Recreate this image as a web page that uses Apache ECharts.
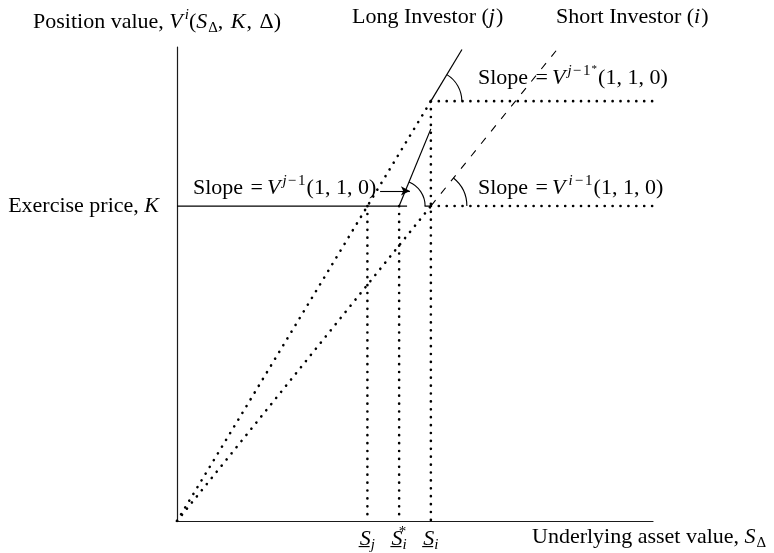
<!DOCTYPE html>
<html>
<head>
<meta charset="utf-8">
<script src="https://cdn.jsdelivr.net/npm/echarts@6/dist/echarts.min.js"></script>
<style>
html, body { margin: 0; padding: 0; background: #fff; }
#chart { width: 774px; height: 553px; }
</style>
</head>
<body>
<div id="chart"></div>
<script>
// Exercise price and the three critical values of the underlying asset
const strikeK = 10;
const sJ = 6;        // S_j
const sStarI = 7;    // S*_i
const sI = 8;        // S_i
const upperLevel = 13.33;

// Asset-axis tick values and their labels
const tickValues = [sJ, sStarI, sI];
const tickLabels = ['{u|S\u0332}{sub|j}', '{u|S\u0332}{supz|*}{sub|i}', '{u|S\u0332}{sub|i}'];

// Long investor (j): dotted ray from the origin, solid continuation, and the steeper branch from S*_i
const longDotted = [[0, 0], [sI, upperLevel]];
const longSolid = [[sI, upperLevel], [8.98, 14.97]];
const longSteep = [[sStarI, strikeK], [sI, 12.45]];

// Short investor (i): dotted ray from the origin, dashed continuation
const shortDotted = [[0, 0], [sI, strikeK]];
const shortDashed = [[sI, strikeK], [12, 15]];

// Exercise price level (solid pieces)
const strikeLine = [[0, strikeK], [7.25, strikeK]];
const strikeStub = [[7.8, strikeK], [sI, strikeK]];

// Dotted reference levels to the right of S_i
const upperLevelLine = [[sI, upperLevel], [15, upperLevel]];
const strikeLevelLine = [[sI, strikeK], [15, strikeK]];

// Dotted drop lines down to the asset axis
const dropSJ = [[sJ, strikeK], [sJ, 0]];
const dropSStarI = [[sStarI, strikeK], [sStarI, 0]];
const dropSI = [[sI, upperLevel], [sI, 0]];

// Angle arcs: [centre x, centre y, point on the sloped side x, y]
const slopeArcs = [
  [sI, upperLevel, 8.98, 14.97],
  [sStarI, strikeK, sI, 12.45],
  [sI, strikeK, 12, 15]
];
const arcRadius = [31, 26, 36];

// Pointer from the "Slope = V^{j-1}" label to the steep branch
const pointerLine = [[6.4, 10.48], [7.34, 10.48]];

const FONT = '"Liberation Serif", "Times New Roman", serif';
const FS = 22;
const SS = 15;
const LH = 28;
const rich = {
  n: { fontFamily: FONT, fontSize: FS, lineHeight: LH, color: '#000' },
  cm: { fontFamily: FONT, fontSize: FS, lineHeight: LH, color: '#000', padding: [0, 2, 0, 0] },
  eq: { fontFamily: FONT, fontSize: FS, lineHeight: LH, color: '#000', padding: [0, 4, 0, 2] },
  it: { fontFamily: FONT, fontSize: FS, lineHeight: LH, fontStyle: 'italic', color: '#000', padding: [0, 1, 0, 0] },
  u: { fontFamily: FONT, fontSize: FS, lineHeight: LH, fontStyle: 'italic', color: '#000' },
  sup: { fontFamily: FONT, fontSize: SS, lineHeight: SS, verticalAlign: 'top', fontStyle: 'italic', color: '#000', padding: [0, 0, 0, 1] },
  supi: { fontFamily: FONT, fontSize: SS, lineHeight: SS, verticalAlign: 'top', fontStyle: 'italic', color: '#000', padding: [0, 1, 0, 2] },
  supn: { fontFamily: FONT, fontSize: SS, lineHeight: SS, verticalAlign: 'top', color: '#000', padding: [0, 1, 0, 1] },
  sup2: { fontFamily: FONT, fontSize: 11, lineHeight: 11, verticalAlign: 'top', color: '#000', padding: [0, 1, 0, 0] },
  supz: { fontFamily: FONT, fontSize: SS, lineHeight: SS, verticalAlign: 'top', width: 0, color: '#000' },
  sub: { fontFamily: FONT, fontSize: SS, lineHeight: SS, verticalAlign: 'bottom', fontStyle: 'italic', color: '#000' },
  subn: { fontFamily: FONT, fontSize: SS, lineHeight: SS, verticalAlign: 'bottom', color: '#000' }
};

function solid(data, width) {
  return {
    type: 'line', data: data, symbol: 'none', silent: true, animation: false,
    lineStyle: { color: '#000', width: width || 1.2, type: 'solid' }
  };
}
function dotted(data) {
  return {
    type: 'line', data: data, symbol: 'none', silent: true, animation: false,
    lineStyle: { color: '#000', width: 2.6, type: [0.1, 7.8], cap: 'round' }
  };
}
function dashed(data) {
  return {
    type: 'line', data: data, symbol: 'none', silent: true, animation: false,
    lineStyle: { color: '#000', width: 1.1, type: [7.5, 8.5] }
  };
}

function textItem(x, y, text) {
  return {
    type: 'text', x: x, y: y, silent: true,
    style: { text: text, rich: rich, align: 'left', verticalAlign: 'middle', fill: '#000' }
  };
}

const chart = echarts.init(document.getElementById('chart'), null, { renderer: 'canvas' });

const steep = solid(longSteep);
steep.markLine = {
  silent: true, animation: false,
  symbol: ['none', 'arrow'], symbolSize: [7, 9],
  label: { show: false },
  lineStyle: { color: '#000', width: 1.1, type: 'solid' },
  data: [[{ coord: pointerLine[0] }, { coord: pointerLine[1] }]]
};

chart.setOption({
  animation: false,
  grid: { left: 177, right: 121, top: 47, bottom: 32 },
  xAxis: {
    type: 'value', min: 0, max: 15, interval: 1,
    axisLine: { lineStyle: { color: '#1a1a1a', width: 1.2 } },
    axisTick: { show: false },
    splitLine: { show: false },
    axisLabel: {
      margin: 4,
      rich: rich,
      formatter: function (v) {
        const i = tickValues.indexOf(Math.round(v));
        return i >= 0 && Math.abs(v - tickValues[i]) < 1e-6 ? tickLabels[i] : '';
      }
    }
  },
  yAxis: {
    type: 'value', min: 0, max: 15.05, interval: 1,
    axisLine: { lineStyle: { color: '#1a1a1a', width: 1.2 } },
    axisTick: { show: false },
    splitLine: { show: false },
    axisLabel: {
      margin: 17,
      rich: rich,
      formatter: function (v) {
        return Math.abs(v - strikeK) < 1e-6 ? '{n|Exercise price, }{it|K}' : '';
      }
    }
  },
  graphic: [
    textItem(33, 22, '{n|Position value, }{it|V}{sup|i}{n|(}{it|S}{subn|Δ}{cm|, }{it|K}{cm|, }{n|Δ)}'),
    textItem(352, 17, '{n|Long Investor (}{it|j}{n|)}'),
    textItem(556, 17, '{n|Short Investor (}{it|i}{n|)}'),
    textItem(478, 78, '{n|Slope }{eq|=}{it|V}{sup|j}{supn|−}{supn|1}{sup2|*}{n|(1, 1, 0)}'),
    textItem(193, 188, '{n|Slope }{eq|=}{it|V}{sup|j}{supn|−}{supn|1}{n|(1, 1, 0)}'),
    textItem(478, 188, '{n|Slope }{eq|=}{it|V}{supi|i}{supn|−}{supn|1}{cm|(1, 1, 0)}'),
    textItem(532, 537, '{n|Underlying asset value, }{it|S}{subn|Δ}')
  ],
  series: [
    dotted(longDotted),
    solid(longSolid),
    steep,
    dotted(shortDotted),
    dashed(shortDashed),
    solid(strikeLine),
    solid(strikeStub),
    dotted(upperLevelLine),
    dotted(strikeLevelLine),
    dotted(dropSJ),
    dotted(dropSStarI),
    dotted(dropSI),
    {
      type: 'custom', coordinateSystem: 'cartesian2d', silent: true, animation: false,
      data: slopeArcs,
      renderItem: function (params, api) {
        const c = api.coord([api.value(0), api.value(1)]);
        const d = api.coord([api.value(2), api.value(3)]);
        const a = Math.atan2(d[1] - c[1], d[0] - c[0]);
        return {
          type: 'arc',
          shape: { cx: c[0], cy: c[1], r: arcRadius[params.dataIndex], startAngle: a, endAngle: 0, clockwise: true },
          style: { stroke: '#000', fill: null, lineWidth: 1.1 }
        };
      }
    }
  ]
});
</script>
</body>
</html>
